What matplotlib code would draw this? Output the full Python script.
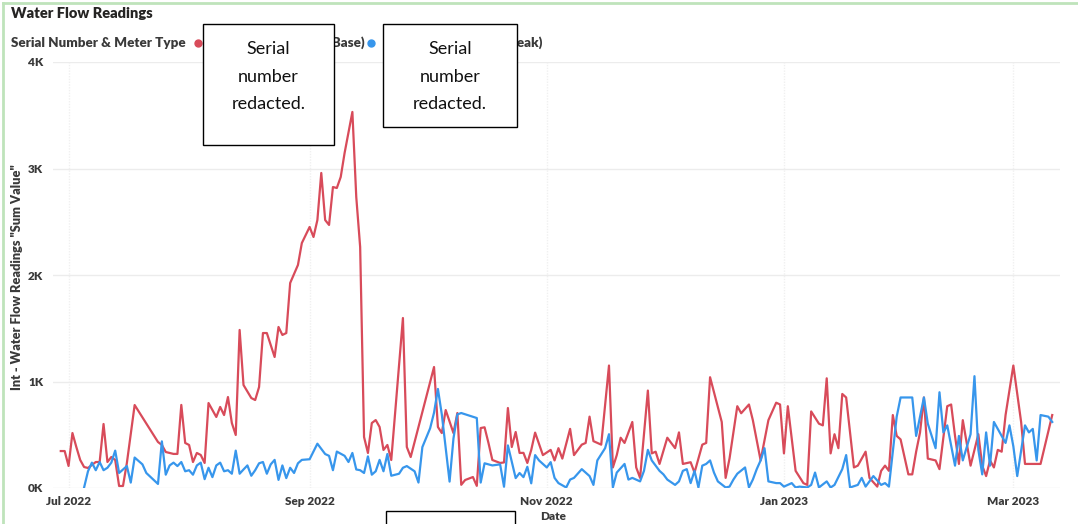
import numpy as np
import matplotlib
matplotlib.use("Agg")
import matplotlib.pyplot as plt
import matplotlib.dates as mdates
from matplotlib.patches import Rectangle
from matplotlib.lines import Line2D

W, H = 1078, 524
START = np.datetime64("2022-07-01")

# daily readings, day offsets counted from 1 Jul 2022 (gaps = missing days)
red_days = [-2, -1, 0, 1, 2, 3, 4, 5, 7, 8, 9, 10, 11, 12, 13, 14, 15, 17, 23, 24,
            25, 27, 28, 29, 30, 31, 32, 33, 34, 35, 36, 37, 38, 39, 40, 41, 42, 43, 44, 45,
            47, 48, 49, 50, 51, 53, 54, 55, 56, 57, 59, 60, 61, 62, 63, 64, 65, 66, 67, 68,
            69, 70, 71, 73, 74, 75, 76, 77, 78, 79, 80, 81, 82, 83, 86, 87, 88, 94, 95, 96,
            97, 99, 100, 101, 102, 104, 105, 106, 107, 108, 109, 111, 112, 113, 114, 115, 116, 117, 118, 119,
            120, 122, 124, 125, 126, 127, 129, 130, 132, 133, 134, 135, 137, 139, 140, 141, 142, 143, 145, 146,
            147, 149, 150, 151, 152, 154, 156, 157, 158, 160, 161, 163, 164, 165, 168, 169, 170, 172, 173, 175,
            176, 178, 180, 182, 183, 184, 185, 187, 189, 190, 191, 193, 194, 195, 196, 197, 198, 199, 200, 202,
            203, 205, 206, 208, 209, 210, 211, 212, 213, 214, 216, 217, 218, 219, 220, 221, 223, 224, 226, 227,
            228, 229, 230, 232, 234, 235, 236, 237, 238, 239, 240, 241, 243, 245, 246, 248, 250, 253]
red_vals = [347, 347, 207, 516, 385, 263, 197, 188, 244, 244, 601, 244, 291, 263, 19, 19, 235, 779, 432, 404,
            338, 320, 320, 780, 423, 404, 244, 329, 310, 235, 798, 732, 667, 761, 685, 854, 610, 498, 1484, 967,
            845, 826, 948, 1455, 1455, 1230, 1512, 1437, 1455, 1925, 2094, 2300, 2376, 2451, 2357, 2516, 2958, 2516, 2470, 2826,
            2817, 2920, 3146, 3531, 2732, 2263, 479, 329, 610, 638, 573, 357, 404, 263, 1596, 385, 291, 1136, 573, 516,
            732, 516, 704, 30, 75, 103, 20, 563, 570, 423, 263, 235, 240, 751, 385, 526, 329, 330, 235, 357,
            520, 309, 358, 259, 374, 276, 555, 309, 407, 423, 670, 440, 407, 1150, 193, 309, 472, 423, 620, 193,
            95, 915, 325, 341, 226, 472, 374, 522, 226, 242, 145, 407, 423, 1040, 620, 95, 276, 768, 702, 784,
            637, 259, 637, 801, 784, 325, 768, 161, 46, 29, 719, 604, 588, 1030, 325, 505, 374, 883, 850, 193,
            210, 341, 95, 13, 161, 210, 161, 685, 489, 456, 128, 128, 341, 522, 850, 276, 259, 177, 768, 784,
            489, 226, 637, 210, 505, 210, 112, 259, 193, 358, 341, 685, 1150, 620, 226, 226, 226, 685]

blue_days = [4, 5, 6, 7, 8, 9, 10, 11, 12, 13, 14, 15, 16, 17, 19, 20, 23, 24, 25, 26,
             27, 28, 29, 30, 31, 32, 33, 34, 35, 36, 37, 38, 39, 40, 41, 42, 43, 44, 45, 46,
             47, 48, 49, 50, 51, 52, 53, 54, 55, 56, 57, 58, 59, 60, 62, 64, 65, 66, 67, 68,
             69, 71, 72, 73, 74, 75, 76, 77, 78, 79, 80, 81, 82, 83, 85, 86, 87, 89, 90, 91,
             93, 94, 95, 96, 98, 99, 100, 101, 105, 106, 107, 109, 111, 112, 113, 115, 116, 117, 118, 119,
             120, 121, 123, 124, 125, 126, 128, 129, 130, 132, 134, 135, 136, 138, 139, 140, 141, 143, 144, 145,
             147, 148, 149, 150, 152, 153, 154, 156, 157, 158, 159, 160, 161, 162, 163, 164, 165, 166, 167, 169,
             170, 171, 172, 174, 175, 176, 177, 178, 179, 180, 182, 183, 184, 186, 187, 188, 190, 191, 192, 193,
             195, 196, 197, 199, 200, 201, 203, 204, 205, 206, 207, 209, 210, 211, 213, 214, 217, 218, 220, 221,
             223, 224, 225, 226, 228, 229, 230, 232, 233, 234, 235, 236, 237, 238, 240, 241, 242, 243, 244, 246,
             247, 248, 249, 250, 252, 253]
blue_vals = [5, 157, 238, 167, 244, 167, 190, 238, 351, 141, 174, 206, 51, 286, 222, 141, 38, 438, 125, 212,
             238, 206, 244, 157, 167, 125, 212, 238, 83, 190, 102, 212, 238, 157, 167, 134, 351, 134, 174, 212,
             115, 167, 232, 244, 134, 222, 264, 76, 212, 93, 190, 141, 232, 264, 270, 416, 367, 319, 302, 167,
             342, 302, 244, 329, 174, 167, 141, 297, 125, 157, 264, 157, 319, 115, 134, 190, 206, 157, 51, 384,
             561, 707, 930, 691, 60, 465, 691, 704, 657, 51, 232, 212, 222, 12, 400, 93, 141, 102, 199, 44,
             309, 259, 193, 243, 95, 46, 5, 79, 95, 177, 112, 29, 259, 374, 505, 5, 145, 226, 79, 95,
             62, 161, 358, 259, 161, 128, 79, 29, 62, 161, 177, 46, 161, 5, 210, 226, 259, 145, 62, 5,
             13, 79, 134, 193, 5, 79, 177, 259, 374, 62, 46, 46, 13, 46, 5, 13, 5, 29, 145, 5,
             62, 5, 29, 177, 309, 5, 29, 95, 13, 62, 112, 29, 46, 13, 670, 850, 850, 489, 850, 604,
             374, 899, 522, 588, 210, 489, 259, 505, 1050, 358, 128, 522, 210, 620, 489, 423, 588, 391, 112, 588,
             522, 555, 259, 685, 670, 620]

tick_dates = ["2022-07-01", "2022-09-01", "2022-11-01", "2023-01-01", "2023-03-01"]
tick_labels = ["Jul 2022", "Sep 2022", "Nov 2022", "Jan 2023", "Mar 2023"]
y_ticks = [0, 1000, 2000, 3000, 4000]
y_labels = ["0K", "1K", "2K", "3K", "4K"]

RED = "#d84b5a"
BLUE = "#3796ec"
TXT = "#3a3a3a"
FONT = "Lato"


def fx(x):
    return x / W


def fy(y):
    return 1 - y / H


def to_dates(days):
    return (START + np.array(days, dtype="timedelta64[D]")).astype("datetime64[ns]")


fig = plt.figure(figsize=(W / 100, H / 100), dpi=100)
fig.patch.set_facecolor("white")

ax = fig.add_axes([fx(53), fy(488), fx(1060) - fx(53), fy(62) - fy(488)])
ax.plot(to_dates(red_days), red_vals, color=RED, lw=1.6, zorder=3)
ax.plot(to_dates(blue_days), blue_vals, color=BLUE, lw=1.6, zorder=4)

ax.set_xlim(to_dates([-4])[0], to_dates([255])[0])
ax.set_ylim(0, 4000)
ax.set_xticks(mdates.date2num(np.array(tick_dates, dtype="datetime64[ns]")))
ax.set_xticklabels(tick_labels)
ax.set_yticks(y_ticks)
ax.set_yticklabels(y_labels)
ax.tick_params(length=0, labelsize=8.5, labelcolor=TXT)
ax.tick_params(axis="x", pad=6)
ax.tick_params(axis="y", pad=7)
for lab in ax.get_xticklabels() + ax.get_yticklabels():
    lab.set_fontfamily(FONT)
    lab.set_fontweight("heavy")
for s in ax.spines.values():
    s.set_visible(False)
ax.grid(axis="y", color="#ececec", lw=1.0)
ax.grid(axis="x", color="#f0f0f0", lw=1.0, ls=(0, (1, 1)))
ax.set_axisbelow(True)

# header and axis titles
fig.text(fx(11), fy(13), "Water Flow Readings", fontsize=10.5, fontweight="heavy",
         family=FONT, color="#252423", va="center")
fig.text(fx(11), fy(43), "Serial Number & Meter Type", fontsize=9.6, fontweight="heavy",
         family=FONT, color=TXT, va="center")
fig.add_artist(Line2D([fx(198)], [fy(43)], marker="o", ms=5, color=RED,
                      transform=fig.transFigure))
fig.add_artist(Line2D([fx(371)], [fy(43)], marker="o", ms=5, color=BLUE,
                      transform=fig.transFigure))
fig.text(fx(365), fy(43), "(Base)", fontsize=9.6, fontweight="heavy", family=FONT,
         color=TXT, va="center", ha="right")
fig.text(fx(543), fy(43), "(Leak)", fontsize=9.6, fontweight="heavy", family=FONT,
         color=TXT, va="center", ha="right")
fig.text(fx(17), fy(277), 'Int - Water Flow Readings "Sum Value"', fontsize=9.2,
         fontweight="heavy", family=FONT, color=TXT, rotation=90, va="center", ha="center")
fig.text(fx(553), fy(517), "Date", fontsize=8.5, fontweight="heavy", family=FONT,
         color=TXT, va="center", ha="center")

# redaction boxes over the series names
boxes = [(203, 24, 334, 145), (383, 24, 517, 127), (386, 511, 515, 530)]
for i, (x0, y0, x1, y1) in enumerate(boxes):
    fig.add_artist(Rectangle((fx(x0), fy(y1)), fx(x1) - fx(x0), fy(y0) - fy(y1),
                             transform=fig.transFigure, facecolor="white",
                             edgecolor="black", lw=1.0, zorder=5))
    if i < 2:
        cx = (x0 + x1) / 2
        for line, ly in zip(["Serial", "number", "redacted."], [49, 77, 104]):
            fig.text(fx(cx), fy(ly), line, fontsize=13, family=FONT, fontweight="normal",
                     color="#111111", ha="center", va="center", zorder=6)

# light green frame of the visual
fig.add_artist(Line2D([fx(3), fx(1078)], [fy(3), fy(3)], color="#bfe3bb", lw=2,
                      transform=fig.transFigure))
fig.add_artist(Line2D([fx(3), fx(3)], [fy(3), fy(524)], color="#bfe3bb", lw=2,
                      transform=fig.transFigure))

fig.savefig("out.png", dpi=100, facecolor=fig.get_facecolor())
